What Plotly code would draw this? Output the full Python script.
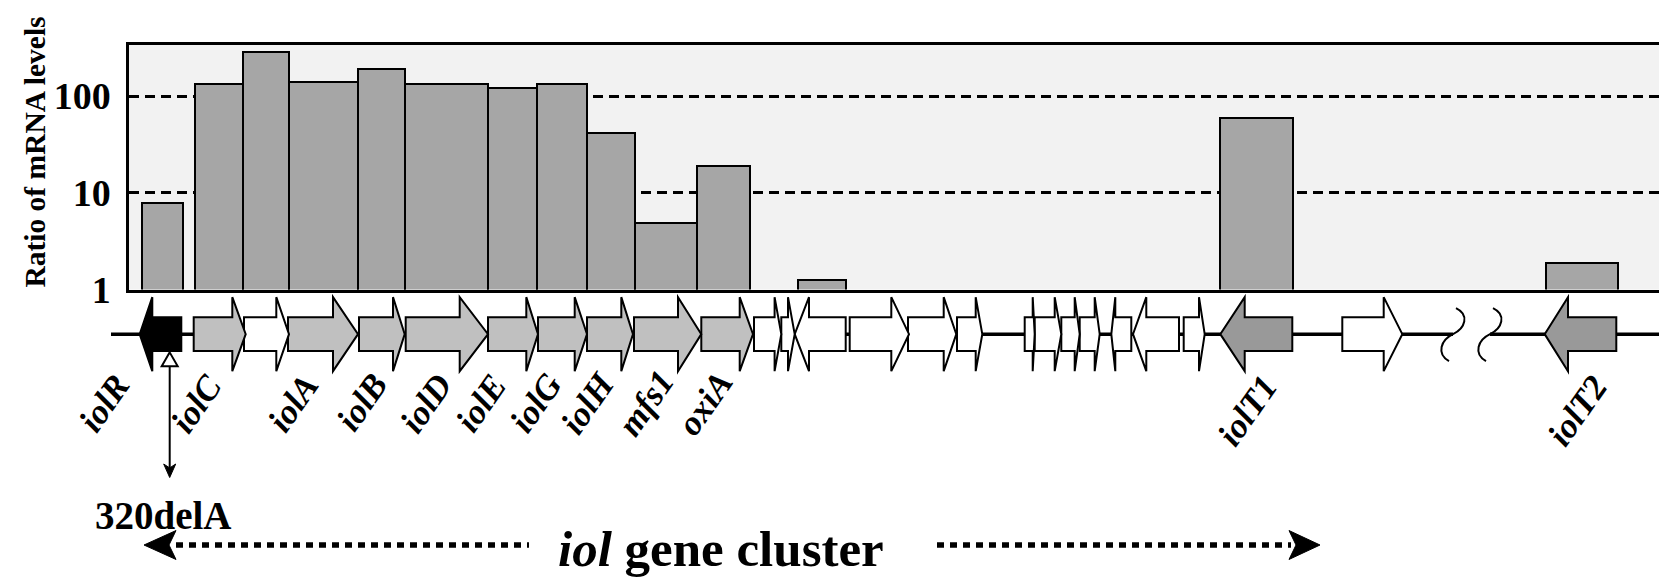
import plotly.graph_objects as go

# ---------------- data ----------------
# Gene map (map units, 0 = left edge of the ratio panel)
gene_name = ["iolR", "iolC", "", "iolA", "iolB", "iolD", "iolE", "iolG", "iolH",
             "mfs1", "oxiA", "", "", "", "", "", "", "", "", "", "", "", "", "",
             "iolT1", "", "iolT2"]
gene_start = [10.7, 64.7, 115.0, 159.0, 230.0, 276.7, 359.0, 409.0, 458.0,
              505.0, 572.3, 625.0, 652.3, 665.7, 720.7, 779.0, 828.0, 895.7,
              905.7, 932.3, 950.7, 982.3, 1004.0, 1054.7, 1091.3, 1213.3, 1415.7]
gene_end = [52.3, 116.7, 160.0, 229.0, 275.7, 359.0, 409.0, 458.0, 504.0,
            572.3, 624.0, 652.3, 665.7, 716.7, 780.0, 827.3, 853.3, 905.7,
            932.3, 950.7, 970.7, 1002.3, 1050.0, 1075.7, 1163.3, 1273.3, 1487.3]
gene_strand = [-1, 1, 1, 1, 1, 1, 1, 1, 1, 1, 1, 1, 1, -1, 1, 1, 1, 1, 1, 1, 1,
               -1, -1, 1, -1, 1, -1]
gene_head = [12.6, 13.4, 12.7, 25.0, 11.7, 28.3, 11.7, 12.3, 11.7, 23.3, 13.3,
             6.7, 6.7, 14.3, 17.7, 12.6, 6.6, 2.0, 6.6, 5.0, 5.0, 4.0, 13.3, 5.7,
             24.4, 18.6, 23.3]
gene_class = (["regulator", "iol", "other"] + ["iol"] * 8 + ["other"] * 13
              + ["transporter", "other", "transporter"])

# label anchor positions on the map (map units) and label rows (px from top)
label_gene = ["iolR", "iolC", "iolA", "iolB", "iolD", "iolE", "iolG", "iolH",
              "mfs1", "oxiA", "iolT1", "iolT2"]
label_x = [-25, 67, 164, 233, 297, 352, 406.5, 458.5, 516.7, 576, 1119, 1449]
label_row = [410, 411, 410, 409, 410, 410, 410, 410, 410, 410, 418, 418]

map_left, map_right = -18, 1539
break_pos = [1324, 1361]

mutation_pos = 40.7
mutation_text = "320delA"

# Ratio of mRNA levels (bars)
bar_start = [12.7, 66.2, 113.7, 159.6, 229.0, 276.4, 358.6, 408.0, 458.0, 506.0,
             567.8, 669.0, 1091.3, 1416.7]
bar_end = [53.5, 113.7, 159.6, 229.0, 276.4, 358.6, 408.0, 458.0, 506.0, 567.8,
           621.3, 717.3, 1164.0, 1489.0]
mrna_ratio = [7.8, 134, 284, 139, 192, 133, 123, 134, 42, 4.9, 19.2, 1.25, 60, 1.9]

y_ticks = [1, 10, 100]
y_title = "Ratio of mRNA levels"
cluster_title = "<b><i>iol</i> gene cluster</b>"

# ---------------- styling / layout constants ----------------
W, H = 1667, 585
FONT = "Liberation Serif, Times New Roman, serif"
PANEL_L, PANEL_R, PANEL_T, PANEL_B = 121, 1657, 38.3, 292
TRACK_T, TRACK_B, TRACK_LINE = 296, 384, 338.3
BODY, HEAD = 17.6, 38.4
fills = {"regulator": "#000000", "iol": "#c0c0c0", "other": "#ffffff",
         "transporter": "#999999"}


def px_x(p):
    return p / W


def px_y(p):
    return 1 - p / H


panel_range = [0, PANEL_R - PANEL_L]
_scale = (panel_range[1] - panel_range[0]) / (PANEL_R - PANEL_L)
map_range = [panel_range[0] - PANEL_L * _scale, panel_range[1] + (W - PANEL_R) * _scale]


def arrow_path(s, e, strand, head):
    if strand > 0:
        hb = e - head
        pts = [(s, -BODY), (hb, -BODY), (hb, -HEAD), (e, 0), (hb, HEAD), (hb, BODY), (s, BODY)]
    else:
        hb = s + head
        pts = [(e, -BODY), (hb, -BODY), (hb, -HEAD), (s, 0), (hb, HEAD), (hb, BODY), (e, BODY)]
    return "M " + " L ".join(f"{x:.2f},{y:.2f}" for x, y in pts) + " Z"


fig = go.Figure()

fig.add_trace(go.Bar(
    x=[(s + e) / 2 for s, e in zip(bar_start, bar_end)],
    y=mrna_ratio,
    width=[e - s for s, e in zip(bar_start, bar_end)],
    marker=dict(color="#a6a6a6", line=dict(color="black", width=2)),
    xaxis="x", yaxis="y", showlegend=False, hoverinfo="skip",
))
# invisible trace so the map axes exist
fig.add_trace(go.Scatter(x=[map_range[0]], y=[0], xaxis="x2", yaxis="y2",
                         mode="markers", marker=dict(opacity=0), showlegend=False,
                         hoverinfo="skip"))

shapes = []
# panel background
shapes.append(dict(type="rect", xref="x domain", yref="y domain", x0=0, x1=1, y0=0, y1=1,
                   fillcolor="#f2f2f2", line=dict(width=0), layer="below"))
# map backbone (broken)
line_style = dict(color="black", width=3.5)
shapes.append(dict(type="line", xref="x2", yref="y2", x0=map_left, x1=break_pos[0], y0=0, y1=0,
                   line=line_style))
shapes.append(dict(type="line", xref="x2", yref="y2", x0=break_pos[1], x1=map_right, y0=0, y1=0,
                   line=line_style))
for cx in break_pos:
    shapes.append(dict(type="path", xref="x2", yref="y2",
                       path=(f"M {cx+3},27 C {cx+17},20 {cx+12},6 {cx},0 "
                             f"C {cx-12},-6 {cx-17},-20 {cx-4},-28"),
                       line=dict(color="black", width=2)))
# gene arrows (drawn right-to-left so earlier tips stay visible)
for i in reversed(range(len(gene_start))):
    shapes.append(dict(type="path", xref="x2", yref="y2",
                       path=arrow_path(gene_start[i], gene_end[i], gene_strand[i], gene_head[i]),
                       fillcolor=fills[gene_class[i]], line=dict(color="black", width=2)))

# mutation marker
tri_top, tri_base, arr_base, arr_tip = 357.2, 371.7, 477, 487
m = mutation_pos
shapes.append(dict(type="path", xref="x2", yref="paper",
                   path=f"M {m},{px_y(tri_top)} L {m+8},{px_y(tri_base)} L {m-8},{px_y(tri_base)} Z",
                   fillcolor="white", line=dict(color="black", width=2)))
shapes.append(dict(type="line", xref="x2", yref="paper", x0=m, x1=m,
                   y0=px_y(tri_base), y1=px_y(arr_base + 2), line=dict(color="black", width=2)))
shapes.append(dict(type="path", xref="x2", yref="paper",
                   path=(f"M {m},{px_y(arr_tip)} L {m+6},{px_y(arr_base-4)} L {m},{px_y(arr_base)} "
                         f"L {m-6},{px_y(arr_base-4)} Z"),
                   fillcolor="black", line=dict(color="black", width=1)))

# dotted cluster arrows
AY = 557
dot = dict(color="black", width=5.5, dash="7px,6px")
shapes.append(dict(type="line", xref="paper", yref="paper", x0=px_x(168), x1=px_x(521),
                   y0=px_y(AY), y1=px_y(AY), line=dot))
shapes.append(dict(type="line", xref="paper", yref="paper", x0=px_x(929), x1=px_x(1283),
                   y0=px_y(AY), y1=px_y(AY), line=dot))
for tip, back, notch in [(136, 168, 161), (1312, 1281, 1288)]:
    shapes.append(dict(type="path", xref="paper", yref="paper",
                       path=(f"M {px_x(tip)},{px_y(AY)} L {px_x(back)},{px_y(AY-15)} "
                             f"L {px_x(notch)},{px_y(AY)} L {px_x(back)},{px_y(AY+15)} Z"),
                       fillcolor="black", line=dict(color="black", width=1)))

annotations = []
annotations.append(dict(xref="paper", yref="paper", x=px_x(27), y=px_y(150),
                        text=f"<b>{y_title}</b>", textangle=-90, showarrow=False,
                        font=dict(family=FONT, size=29.5, color="black"),
                        xanchor="center", yanchor="middle"))
for name, lx, ly in zip(label_gene, label_x, label_row):
    annotations.append(dict(xref="x2", yref="paper", x=lx, y=px_y(ly),
                            text=f"<b><i>{name}</i></b>", textangle=-55, showarrow=False,
                            font=dict(family=FONT, size=35, color="black"),
                            xanchor="center", yanchor="middle"))
annotations.append(dict(xref="paper", yref="paper", x=px_x(155), y=px_y(526),
                        text=f"<b>{mutation_text}</b>", showarrow=False,
                        font=dict(family=FONT, size=39, color="black"),
                        xanchor="center", yanchor="middle"))
annotations.append(dict(xref="paper", yref="paper", x=px_x(713), y=px_y(561),
                        text=cluster_title, showarrow=False,
                        font=dict(family=FONT, size=51, color="black"),
                        xanchor="center", yanchor="middle"))

fig.update_layout(
    width=W, height=H, margin=dict(l=0, r=0, t=0, b=0),
    paper_bgcolor="white", plot_bgcolor="rgba(0,0,0,0)",
    bargap=0, showlegend=False,
    xaxis=dict(domain=[px_x(PANEL_L), px_x(PANEL_R)], range=panel_range,
               showticklabels=False, ticks="", showgrid=False, zeroline=False,
               showline=True, mirror=True, linecolor="black", linewidth=2.5, fixedrange=True),
    yaxis=dict(domain=[px_y(PANEL_B), px_y(PANEL_T)], type="log",
               range=[0, 2.53], tickvals=y_ticks, ticktext=[str(v) for v in y_ticks],
               ticks="", ticklabelstandoff=8,
               tickfont=dict(family=FONT, size=38, color="black", weight="bold"),
               showgrid=True, gridcolor="black", gridwidth=2.5, griddash="10px,6px",
               zeroline=False, showline=True, mirror=True, linecolor="black",
               linewidth=2.5, fixedrange=True),
    xaxis2=dict(domain=[0, 1], range=map_range, visible=False, fixedrange=True,
                anchor="y2"),
    yaxis2=dict(domain=[px_y(TRACK_B), px_y(TRACK_T)],
                range=[-(TRACK_B - TRACK_LINE), TRACK_LINE - TRACK_T],
                visible=False, fixedrange=True, anchor="x2"),
    shapes=shapes, annotations=annotations,
)

fig.write_html("out.html")
